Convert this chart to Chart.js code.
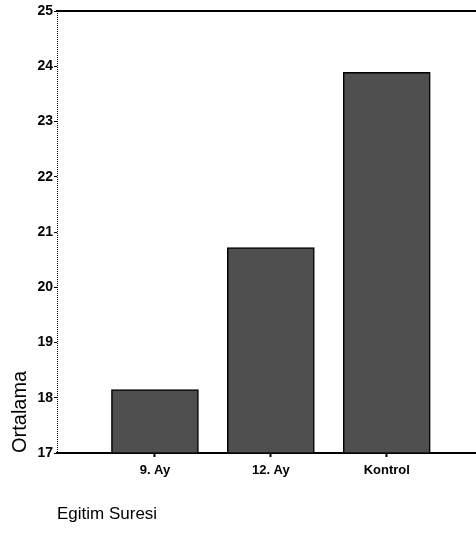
<!DOCTYPE html>
<html>
<head>
<meta charset="utf-8">
<script src="https://cdn.jsdelivr.net/npm/chart.js@4/dist/chart.umd.min.js"></script>
<style>
    html, body { margin: 0; padding: 0; background: #FFFFFF; }
    #wrap { width: 476px; height: 535px; }
</style>
</head>
<body>
<div id="wrap"><canvas id="barChart"></canvas></div>
<script>
// ===============================
// DATA
// ===============================
const categories = ["9. Ay", "12. Ay", "Kontrol"];
const positions = [1, 2, 3];
const ortalama = [18.15, 20.72, 23.89];
const yTicks = [17, 18, 19, 20, 21, 22, 23, 24, 25];

const FONT = "'Liberation Sans', Arial, sans-serif";

// dotted left axis line (the y border itself)
const dottedAxis = {
    id: "dottedAxis",
    afterDatasetsDraw(chart) {
        const { ctx, chartArea } = chart;
        ctx.save();
        ctx.strokeStyle = "#000000";
        ctx.lineWidth = 1;
        ctx.setLineDash([1, 1]);
        ctx.beginPath();
        ctx.moveTo(chartArea.left + 0.5, chartArea.top);
        ctx.lineTo(chartArea.left + 0.5, chartArea.bottom);
        ctx.stroke();
        ctx.restore();
    }
};

const ctx = document.getElementById("barChart").getContext("2d");

new Chart(ctx, {
    type: "bar",
    data: {
        datasets: [{
            data: positions.map((p, i) => ({ x: p, y: ortalama[i] })),
            backgroundColor: "#4f4f4f",
            borderColor: "#000000",
            borderWidth: 1.5,
            barThickness: 87,
            base: 17
        }]
    },
    options: {
        responsive: true,
        maintainAspectRatio: false,
        animation: false,
        layout: { padding: { top: 10, right: 0, left: 0, bottom: 0 } },
        plugins: {
            legend: { display: false },
            tooltip: { enabled: false }
        },
        scales: {
            x: {
                type: "linear",
                offset: false,
                min: 0.155,
                max: 3.77,
                afterBuildTicks: scale => {
                    scale.ticks = positions.map(v => ({ value: v }));
                },
                afterFit: scale => { scale.height = 82; },
                ticks: {
                    callback: v => categories[positions.indexOf(v)],
                    color: "#000000",
                    font: { family: FONT, size: 13, weight: "bold" },
                    padding: 6,
                    maxRotation: 0,
                    autoSkip: false
                },
                grid: {
                    offset: false,
                    drawOnChartArea: false,
                    tickLength: 4,
                    tickColor: "#000000",
                    tickWidth: 2
                },
                border: { color: "#000000", width: 2 },
                title: {
                    display: true,
                    text: "Egitim Suresi",
                    align: "start",
                    color: "#000000",
                    font: { family: FONT, size: 17 },
                    padding: { top: 0, bottom: 10 }
                }
            },
            xTop: {
                type: "linear",
                position: "top",
                offset: false,
                min: 0.155,
                max: 3.77,
                ticks: { display: false },
                grid: { display: false },
                border: { color: "#000000", width: 2 },
                afterFit: scale => { scale.height = 1; }
            },
            y: {
                min: 17,
                max: 25,
                afterBuildTicks: scale => {
                    scale.ticks = yTicks.map(v => ({ value: v }));
                },
                afterFit: scale => { scale.width = 57; },
                ticks: {
                    color: "#000000",
                    font: { family: FONT, size: 14, weight: "bold" },
                    padding: 1
                },
                grid: {
                    drawOnChartArea: false,
                    tickLength: 3,
                    tickColor: "#000000",
                    tickWidth: 1
                },
                border: { display: false },
                title: {
                    display: true,
                    text: "Ortalama",
                    align: "start",
                    color: "#000000",
                    font: { family: FONT, size: 20 },
                    padding: { top: 8, bottom: 0 }
                }
            }
        }
    },
    plugins: [dottedAxis]
});
</script>
</body>
</html>
